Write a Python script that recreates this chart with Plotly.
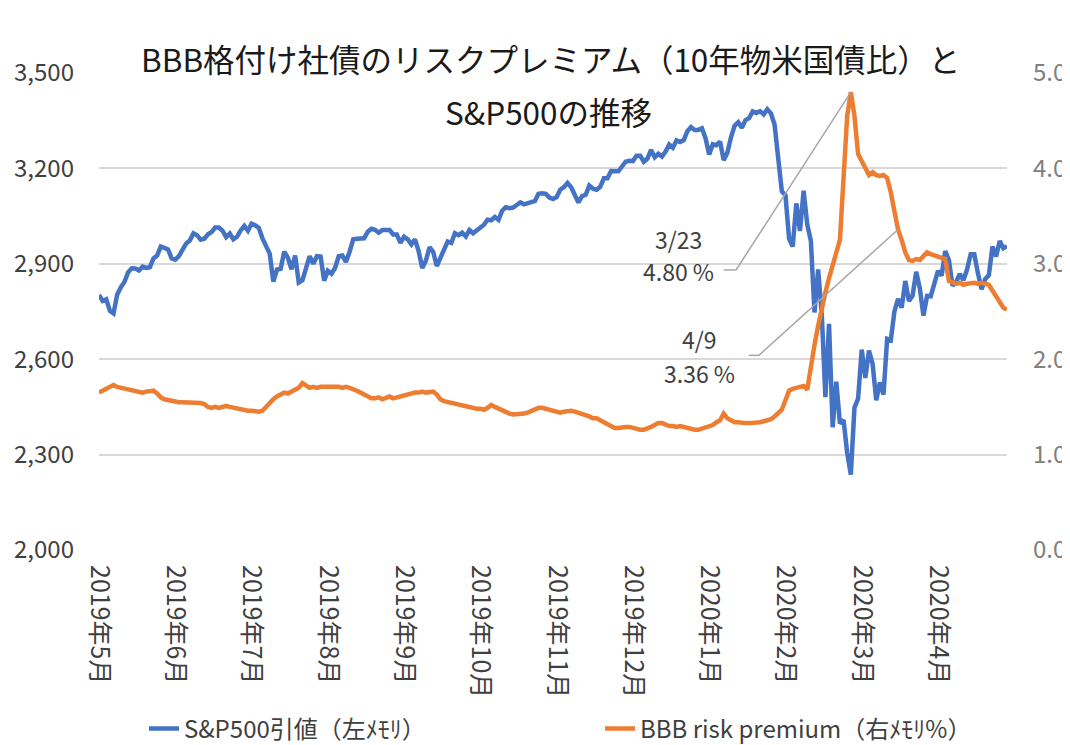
import plotly.graph_objects as go

# S&P500 daily close, 2019-05-28 .. 2020-05-22 (trading days)
sp500 = [
    2802, 2783, 2788, 2752,
    2744, 2803, 2826, 2843, 2873, 2886, 2885, 2879, 2891, 2887, 2889, 2917, 2926, 2954, 2950, 2945, 2917, 2913, 2924, 2942,
    2964, 2973, 2996, 2990, 2976, 2979, 2993, 3000, 3014, 3014, 3004, 2984, 2995, 2977, 2985, 3005, 3019, 3004, 3026, 3021, 3013, 2980,
    2954, 2932, 2844, 2882, 2884, 2938, 2919, 2883, 2926, 2841, 2848, 2889, 2924, 2900, 2924, 2923, 2847, 2878, 2869, 2887, 2924, 2926,
    2906, 2938, 2977, 2979, 2979, 2980, 3001, 3010, 3007, 2998, 3006, 3006, 3006, 2992, 2992, 2966, 2985, 2977, 2961, 2977,
    2940, 2887, 2910, 2952, 2938, 2893, 2919, 2938, 2970, 2966, 2996, 2990, 2998, 2986, 3006, 2996, 3005, 3010, 3023, 3039, 3037, 3047, 3038,
    3067, 3078, 3075, 3077, 3085, 3093, 3087, 3092, 3094, 3097, 3120, 3122, 3120, 3108, 3104, 3110, 3133, 3141, 3154, 3141,
    3113, 3093, 3113, 3117, 3146, 3136, 3133, 3142, 3169, 3169, 3192, 3192, 3191, 3206, 3221, 3224, 3223, 3240, 3240, 3221, 3231,
    3258, 3235, 3246, 3237, 3253, 3275, 3265, 3288, 3283, 3289, 3317, 3330, 3321, 3321, 3326, 3295, 3244, 3276, 3273, 3284, 3226,
    3249, 3298, 3334, 3345, 3328, 3352, 3358, 3379, 3374, 3380, 3370, 3386, 3373, 3338, 3226, 3128, 3116, 2979, 2954,
    3090, 3003, 3130, 3024, 2972, 2747, 2882, 2741, 2481, 2711, 2386, 2529, 2398, 2409, 2305, 2237, 2448, 2476, 2630, 2541, 2627, 2585,
    2471, 2527, 2489, 2664, 2660, 2750, 2790, 2762, 2846, 2783, 2800, 2875, 2823, 2737, 2799, 2798, 2837, 2878, 2863, 2940, 2912,
    2831, 2843, 2868, 2848, 2882, 2930, 2930, 2870, 2820, 2852, 2864, 2954, 2923, 2972, 2949, 2955,
]

# BBB spread over 10y treasury (%)
bbb_premium = [
    1.65, 1.67, 1.70, 1.72,
    1.73, 1.71, 1.70, 1.70, 1.69, 1.68, 1.67, 1.65, 1.65, 1.66, 1.67, 1.67, 1.64, 1.60, 1.58, 1.57, 1.56, 1.56, 1.55, 1.55,
    1.55, 1.54, 1.54, 1.55, 1.54, 1.53, 1.50, 1.49, 1.50, 1.49, 1.50, 1.51, 1.50, 1.49, 1.48, 1.47, 1.47, 1.46, 1.46, 1.45, 1.45, 1.46,
    1.50, 1.55, 1.58, 1.61, 1.63, 1.65, 1.64, 1.66, 1.67, 1.70, 1.75, 1.72, 1.70, 1.71, 1.70, 1.71, 1.71, 1.72, 1.71, 1.71, 1.71, 1.70,
    1.71, 1.70, 1.69, 1.67, 1.65, 1.63, 1.60, 1.59, 1.59, 1.60, 1.58, 1.59, 1.61, 1.59, 1.60, 1.61, 1.62, 1.63, 1.65, 1.65,
    1.65, 1.66, 1.65, 1.65, 1.66, 1.63, 1.58, 1.56, 1.55, 1.54, 1.53, 1.52, 1.52, 1.51, 1.50, 1.49, 1.48, 1.48, 1.47, 1.49, 1.52, 1.50, 1.48,
    1.47, 1.45, 1.43, 1.42, 1.42, 1.43, 1.43, 1.44, 1.46, 1.48, 1.49, 1.49, 1.48, 1.47, 1.46, 1.45, 1.44, 1.45, 1.46, 1.46,
    1.45, 1.44, 1.42, 1.41, 1.40, 1.38, 1.38, 1.36, 1.34, 1.31, 1.29, 1.28, 1.28, 1.29, 1.29, 1.29, 1.28, 1.26, 1.26, 1.26, 1.27,
    1.29, 1.31, 1.33, 1.33, 1.31, 1.30, 1.30, 1.29, 1.30, 1.29, 1.27, 1.26, 1.26, 1.26, 1.27, 1.28, 1.29, 1.31, 1.34, 1.36, 1.43,
    1.38, 1.36, 1.34, 1.34, 1.33, 1.33, 1.33, 1.33, 1.33, 1.34, 1.35, 1.36, 1.37, 1.40, 1.44, 1.47, 1.57, 1.67, 1.69,
    1.70, 1.70, 1.72, 1.68, 1.95, 2.15, 2.35, 2.55, 2.70, 2.85, 2.98, 3.12, 3.25, 3.90, 4.55, 4.80, 4.55, 4.15, 4.08, 4.00, 3.93, 3.96,
    3.93, 3.92, 3.93, 3.90, 3.75, 3.55, 3.36, 3.25, 3.12, 3.04, 3.03, 3.05, 3.04, 3.08, 3.12, 3.10, 3.09, 3.08, 3.07, 3.05, 2.82,
    2.80, 2.79, 2.80, 2.78, 2.79, 2.80, 2.80, 2.79, 2.80, 2.79, 2.78, 2.72, 2.66, 2.60, 2.54, 2.52,
]

month_labels = ["2019年5月", "2019年6月", "2019年7月", "2019年8月", "2019年9月", "2019年10月",
                "2019年11月", "2019年12月", "2020年1月", "2020年2月", "2020年3月", "2020年4月"]
label_step = 21  # Excel shows a label every 21 trading days

# callouts: (index of trading day, date text, value)
callouts = [(207, "3/23", 4.80), (220, "4/9", 3.36)]

FONT = "Noto Sans CJK JP"
days = list(range(len(sp500)))

# page has an 8px body margin, so the figure is drawn 8px smaller
W, H = 1062, 737
ML, MR, MT, MB = 91, 63, 65, 195
plot_h = H - MT - MB
plot_w = W - ML - MR

fig = go.Figure()
fig.add_trace(go.Scatter(
    x=days, y=sp500, name="S&P500引値（左ﾒﾓﾘ）", mode="lines",
    line=dict(color="#4472C4", width=4.5), legend="legend",
))
fig.add_trace(go.Scatter(
    x=days, y=bbb_premium, name="BBB risk premium（右ﾒﾓﾘ%）", mode="lines",
    line=dict(color="#ED7D31", width=4.5), yaxis="y2", legend="legend2",
))

# leader lines + labels; label centre x, date line y, value line y, elbow x0/x1/y (right axis units)
label_pos = [(159.5, 3.26, 2.92, 172.0, 175.4, 2.935),
             (165.3, 2.21, 1.86, 178.9, 181.7, 2.04)]
for (idx, txt, val), (lx, ly1, ly2, ex0, ex1, ey) in zip(callouts, label_pos):
    fig.add_shape(type="line", xref="x", yref="y2", x0=ex0, y0=ey, x1=ex1, y1=ey,
                  line=dict(color="#a6a6a6", width=1.5))
    fig.add_shape(type="line", xref="x", yref="y2", x0=ex1, y0=ey, x1=idx, y1=val,
                  line=dict(color="#a6a6a6", width=1.5))
    fig.add_annotation(x=lx, y=ly1, xref="x", yref="y2", showarrow=False, text=txt,
                       font=dict(family=FONT, size=23, color="#404040"))
    fig.add_annotation(x=lx, y=ly2, xref="x", yref="y2", showarrow=False, text=f"{val:.2f} %",
                       font=dict(family=FONT, size=23, color="#404040"))

# two-line title, second line sits inside the plot like the original
fig.add_annotation(x=(550 - 8 - ML) / plot_w, y=(H - MB - 25) / plot_h, xref="paper", yref="paper",
                   showarrow=False, text="BBB格付け社債のリスクプレミアム（10年物米国債比）と",
                   font=dict(family=FONT, size=31.5, color="#1a1a1a"))
fig.add_annotation(x=(548 - 8 - ML) / plot_w, y=(H - MB - 78) / plot_h, xref="paper", yref="paper",
                   showarrow=False, text="S&P500の推移",
                   font=dict(family=FONT, size=31.5, color="#1a1a1a"))

legend_y = -(721 - (H - MB)) / plot_h
legend_font = dict(family=FONT, size=24, color="#404040")

fig.update_layout(
    width=W, height=H,
    margin=dict(l=ML, r=MR, t=MT, b=MB, autoexpand=False),
    paper_bgcolor="white", plot_bgcolor="white",
    font=dict(family=FONT, color="#404040"),
    showlegend=True,
    legend=dict(orientation="h", x=(136 - ML) / plot_w, xanchor="left",
                y=legend_y, yanchor="middle", font=legend_font),
    legend2=dict(orientation="h", x=(592 - ML) / plot_w, xanchor="left",
                 y=legend_y, yanchor="middle", font=legend_font),
    xaxis=dict(
        range=[0, len(days) - 1], automargin=False,
        tickmode="array",
        tickvals=list(range(0, len(days), label_step))[:len(month_labels)],
        ticktext=month_labels,
        tickangle=90,
        tickfont=dict(family=FONT, size=25, color="#404040"),
        showgrid=False, zeroline=False, showline=False, ticks="", ticklabelstandoff=14,
    ),
    yaxis=dict(
        range=[2000, 3500], tick0=2000, dtick=300, tickformat=",", automargin=False,
        tickfont=dict(family=FONT, size=24, color="#404040"),
        showgrid=True, gridcolor="#d9d9d9", gridwidth=2,
        zeroline=False, showline=False, ticks="", ticklabelstandoff=24,
    ),
    yaxis2=dict(
        range=[0, 5], tick0=0, dtick=1, tickformat=".1f", overlaying="y", side="right",
        automargin=False,
        tickfont=dict(family=FONT, size=24, color="#808080"),
        showgrid=False, zeroline=False, showline=False, ticks="", ticklabelstandoff=25,
    ),
)

fig.write_html("out.html")
